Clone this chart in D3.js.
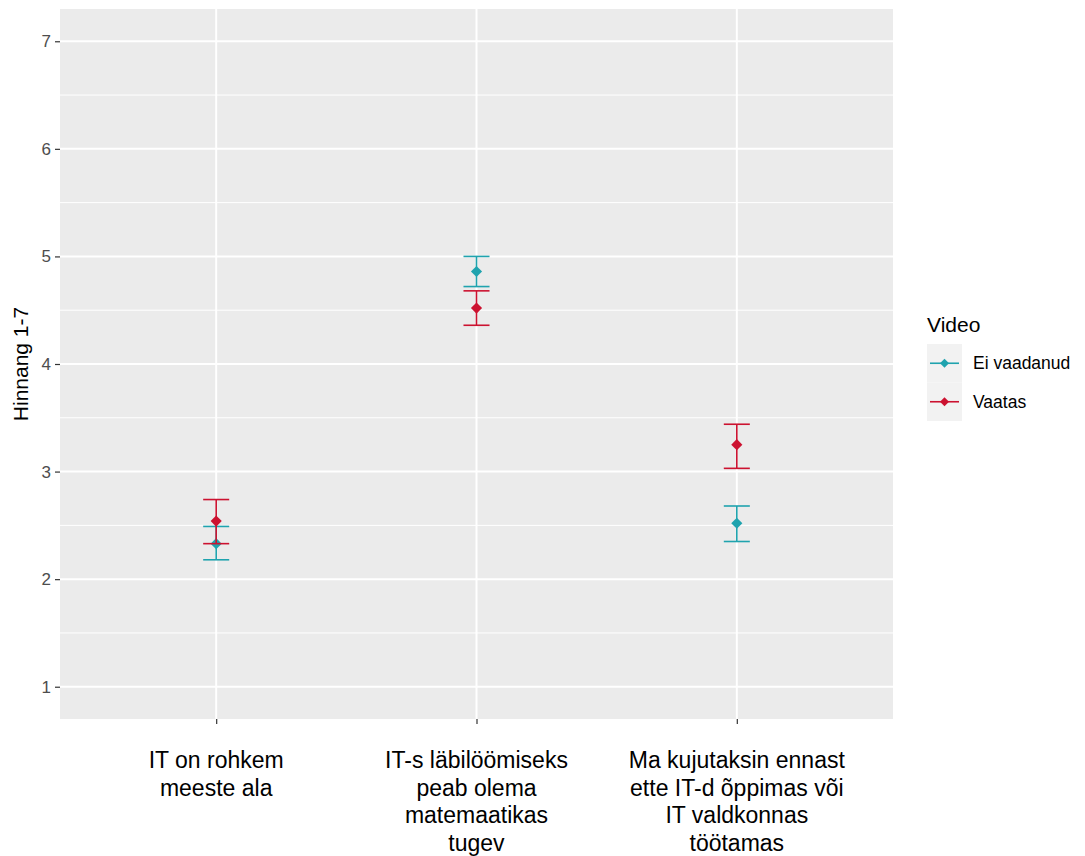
<!DOCTYPE html>
<html>
<head>
<meta charset="utf-8">
<script src="https://cdn.jsdelivr.net/npm/d3@7"></script>
<style>
  html, body { margin: 0; padding: 0; background: #ffffff; }
  svg { display: block; font-family: "Liberation Sans", Arial, sans-serif; }
</style>
</head>
<body>
<svg id="chart" width="1085" height="856"></svg>
<script>
// ---- data ----
const categories = ["IT on rohkem meeste ala", "IT-s läbilöömiseks peab olema matemaatikas tugev", "Ma kujutaksin ennast ette IT-d õppimas või IT valdkonnas töötamas"];
const categoryLines = [
  ["IT on rohkem", "meeste ala"],
  ["IT-s läbilöömiseks", "peab olema", "matemaatikas", "tugev"],
  ["Ma kujutaksin ennast", "ette IT-d õppimas või", "IT valdkonnas", "töötamas"]
];
const groups = ["Ei vaadanud", "Vaatas"];
const meanEi = [2.33, 4.86, 2.52];
const lowEi  = [2.18, 4.72, 2.35];
const highEi = [2.49, 5.00, 2.68];
const meanVa = [2.54, 4.52, 3.25];
const lowVa  = [2.33, 4.36, 3.03];
const highVa = [2.74, 4.68, 3.44];
const yTicks = [1, 2, 3, 4, 5, 6, 7];
const yMinor = [1.5, 2.5, 3.5, 4.5, 5.5, 6.5];
const yTitle = "Hinnang 1-7";
const legendTitle = "Video";
const colors = ["#1FA3AE", "#CC1230"];

// ---- layout ----
const panel = {left: 60, right: 893, top: 9, bottom: 719};
const svg = d3.select("#chart");

const x = d3.scalePoint().domain(categories).range([panel.left, panel.right]).padding(0.6);
const y = d3.scaleLinear().domain([0.7, 7.3]).range([panel.bottom, panel.top]);
const step = x.step();

// panel background
svg.append("rect")
  .attr("x", panel.left).attr("y", panel.top)
  .attr("width", panel.right - panel.left).attr("height", panel.bottom - panel.top)
  .attr("fill", "#EBEBEB");

// minor gridlines
svg.append("g").selectAll("line").data(yMinor).join("line")
  .attr("x1", panel.left).attr("x2", panel.right)
  .attr("y1", d => y(d)).attr("y2", d => y(d))
  .attr("stroke", "#ffffff").attr("stroke-width", 1);

// major gridlines
svg.append("g").selectAll("line").data(yTicks).join("line")
  .attr("x1", panel.left).attr("x2", panel.right)
  .attr("y1", d => y(d)).attr("y2", d => y(d))
  .attr("stroke", "#ffffff").attr("stroke-width", 2);
svg.append("g").selectAll("line").data(categories).join("line")
  .attr("x1", d => x(d)).attr("x2", d => x(d))
  .attr("y1", panel.top).attr("y2", panel.bottom)
  .attr("stroke", "#ffffff").attr("stroke-width", 2);

// y axis
const yAxis = svg.append("g")
  .attr("transform", `translate(${panel.left},0)`)
  .call(d3.axisLeft(y).tickValues(yTicks).tickFormat(d3.format("d")).tickSize(5).tickPadding(4));
yAxis.select(".domain").remove();
yAxis.selectAll(".tick line").attr("stroke", "#333333").attr("stroke-width", 1.2);
yAxis.selectAll(".tick text").attr("fill", "#4D4D4D").attr("font-size", 17)
  .attr("font-family", "Liberation Sans, Arial, sans-serif");

// x axis
const xAxis = svg.append("g")
  .attr("transform", `translate(0,${panel.bottom})`)
  .call(d3.axisBottom(x).tickSize(5).tickFormat(""));
xAxis.select(".domain").remove();
xAxis.selectAll(".tick line").attr("stroke", "#333333").attr("stroke-width", 1.2);

// multi-line x labels
const xl = svg.append("g");
categories.forEach((c, i) => {
  const t = xl.append("text")
    .attr("x", x(c)).attr("y", 768)
    .attr("text-anchor", "middle")
    .attr("font-size", 23).attr("fill", "#000000");
  categoryLines[i].forEach((line, j) => {
    t.append("tspan").attr("x", x(c)).attr("y", 768 + j * 27.5).text(line);
  });
});

// y title
svg.append("text")
  .attr("transform", `translate(28,${(panel.top + panel.bottom) / 2}) rotate(-90)`)
  .attr("text-anchor", "middle")
  .attr("font-size", 21).attr("fill", "#000000")
  .text(yTitle);

// data series
const series = [
  {name: groups[0], mean: meanEi, lo: lowEi, hi: highEi, color: colors[0]},
  {name: groups[1], mean: meanVa, lo: lowVa, hi: highVa, color: colors[1]}
];
const capHalf = step * 0.05;
const diamond = d3.symbol(d3.symbolSquare, 62)();

series.forEach(s => {
  const g = svg.append("g");
  categories.forEach((c, i) => {
    const cx = x(c);
    g.append("line").attr("x1", cx).attr("x2", cx)
      .attr("y1", y(s.lo[i])).attr("y2", y(s.hi[i]))
      .attr("stroke", s.color).attr("stroke-width", 1.6);
    [s.lo[i], s.hi[i]].forEach(v => {
      g.append("line").attr("x1", cx - capHalf).attr("x2", cx + capHalf)
        .attr("y1", y(v)).attr("y2", y(v))
        .attr("stroke", s.color).attr("stroke-width", 1.6);
    });
    g.append("path").attr("d", diamond)
      .attr("transform", `translate(${cx},${y(s.mean[i])}) rotate(45)`)
      .attr("fill", s.color);
  });
});

// legend
const leg = svg.append("g");
leg.append("text").attr("x", 927).attr("y", 332)
  .attr("font-size", 21).attr("fill", "#000000").text(legendTitle);
const keyTop = 344, keyH = 38.5, keyX = 927, keyW = 35;
series.forEach((s, i) => {
  const ky = keyTop + i * keyH;
  leg.append("rect").attr("x", keyX).attr("y", ky).attr("width", keyW).attr("height", keyH)
    .attr("fill", "#F2F2F2");
  const cy = ky + keyH / 2;
  leg.append("line").attr("x1", keyX + 3).attr("x2", keyX + keyW - 3)
    .attr("y1", cy).attr("y2", cy).attr("stroke", s.color).attr("stroke-width", 1.6);
  leg.append("path").attr("d", d3.symbol(d3.symbolSquare, 40)())
    .attr("transform", `translate(${keyX + keyW / 2},${cy}) rotate(45)`)
    .attr("fill", s.color);
  leg.append("text").attr("x", keyX + keyW + 11).attr("y", cy + 6)
    .attr("font-size", 17.5).attr("fill", "#000000").text(s.name);
});
</script>
</body>
</html>
